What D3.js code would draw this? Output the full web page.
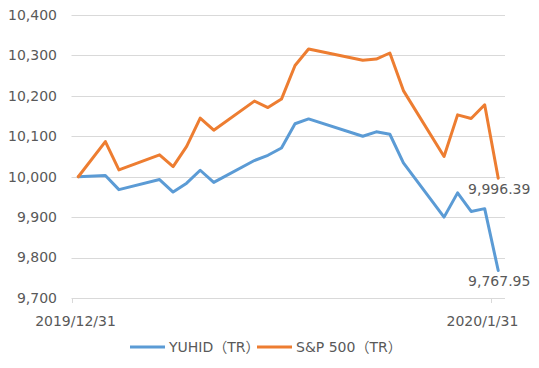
<!DOCTYPE html>
<html>
<head>
<meta charset="utf-8">
<script src="https://cdn.jsdelivr.net/npm/d3@7"></script>
<style>
  body { margin: 0; background: #fff; }
  text { font-family: "DejaVu Sans", "Noto Sans CJK JP", sans-serif; fill: #595959; font-size: 14px; }
</style>
</head>
<body>
<svg id="chart" width="539" height="368"></svg>
<script>
// trading days, Dec 31 2019 to Jan 31 2020
var dates = ["2019-12-31","2020-01-02","2020-01-03","2020-01-06","2020-01-07","2020-01-08","2020-01-09","2020-01-10",
  "2020-01-13","2020-01-14","2020-01-15","2020-01-16","2020-01-17","2020-01-21","2020-01-22","2020-01-23",
  "2020-01-24","2020-01-27","2020-01-28","2020-01-29","2020-01-30","2020-01-31"];
var yuhid = [10000, 10003, 9968, 9993, 9962, 9984, 10016, 9986, 10040, 10053, 10071, 10131, 10143,
  10100, 10111, 10105, 10034, 9900, 9960, 9914, 9921, 9767.95];
var sp500 = [10000, 10087, 10017, 10054, 10025, 10075, 10145, 10115, 10187, 10171, 10192, 10275, 10316,
  10288, 10291, 10306, 10213, 10050, 10153, 10144, 10178, 9996.39];
var seriesNames = ["YUHID（TR）", "S&P 500（TR）"];
var colors = ["#5b9bd5", "#ed7d31"];
var yTicks = [9700, 9800, 9900, 10000, 10100, 10200, 10300, 10400];
var xTickLabels = ["2019/12/31", "2020/1/31"];

var svg = d3.select("#chart");
var parse = d3.timeParse("%Y-%m-%d");
var plotLeft = 71.5, plotRight = 505, plotTop = 15, plotBottom = 298;

var x = d3.scaleTime()
  .domain([parse("2019-12-31"), parse("2020-02-01")])
  .range([plotLeft, plotRight]);
var y = d3.scaleLinear().domain([9700, 10400]).range([plotBottom, plotTop]);

// points sit in the middle of their day slot
var xMid = function(s) { return x(d3.timeHour.offset(parse(s), 12)); };

// gridlines
svg.selectAll(".grid")
  .data(yTicks.slice(1))
  .enter().append("line")
  .attr("x1", plotLeft).attr("x2", plotRight)
  .attr("y1", function(d) { return Math.round(y(d)) + 0.5; })
  .attr("y2", function(d) { return Math.round(y(d)) + 0.5; })
  .attr("stroke", "#d9d9d9");

// y labels
svg.selectAll(".ylab")
  .data(yTicks)
  .enter().append("text")
  .attr("x", 57)
  .attr("y", function(d) { return y(d); })
  .attr("dy", "0.35em")
  .attr("text-anchor", "end")
  .text(d3.format(","));

// x axis line and ticks
svg.append("line")
  .attr("x1", plotLeft).attr("x2", plotRight)
  .attr("y1", Math.round(y(9700)) + 0.5).attr("y2", Math.round(y(9700)) + 0.5)
  .attr("stroke", "#d9d9d9");

var tickDates = [parse("2019-12-31"), parse("2020-01-31")];
svg.selectAll(".xtick")
  .data(tickDates)
  .enter().append("line")
  .attr("x1", function(d) { return Math.round(x(d)) + 0.5; })
  .attr("x2", function(d) { return Math.round(x(d)) + 0.5; })
  .attr("y1", plotBottom).attr("y2", plotBottom + 5)
  .attr("stroke", "#d9d9d9");

svg.selectAll(".xlab")
  .data(tickDates)
  .enter().append("text")
  .attr("x", function(d, i) { return x(d) + (i === 0 ? 4 : -9); })
  .attr("y", 321)
  .attr("dy", "0.35em")
  .attr("text-anchor", "middle")
  .text(function(d, i) { return xTickLabels[i]; });

// lines
var line = d3.line()
  .x(function(d) { return xMid(d.date); })
  .y(function(d) { return y(d.value); });

[yuhid, sp500].forEach(function(vals, k) {
  var data = vals.map(function(v, i) { return {date: dates[i], value: v}; });
  svg.append("path")
    .datum(data)
    .attr("d", line)
    .attr("fill", "none")
    .attr("stroke", colors[k])
    .attr("stroke-width", 3)
    .attr("stroke-linejoin", "round")
    .attr("stroke-linecap", "round");

  var last = data[data.length - 1];
  svg.append("text")
    .attr("x", xMid(last.date) + 1)
    .attr("y", y(last.value) + 11)
    .attr("dy", "0.35em")
    .attr("text-anchor", "middle")
    .text(d3.format(",.2f")(last.value));
});

// legend
var legendX = [130, 257];
var lg = svg.selectAll(".legend")
  .data(seriesNames)
  .enter().append("g")
  .attr("transform", function(d, i) { return "translate(" + legendX[i] + ",347)"; });

lg.append("line")
  .attr("x1", 0).attr("x2", 35)
  .attr("stroke", function(d, i) { return colors[i]; })
  .attr("stroke-width", 3);

lg.append("text")
  .attr("x", 39)
  .attr("dy", "0.35em")
  .text(function(d) { return d; });
</script>
</body>
</html>
